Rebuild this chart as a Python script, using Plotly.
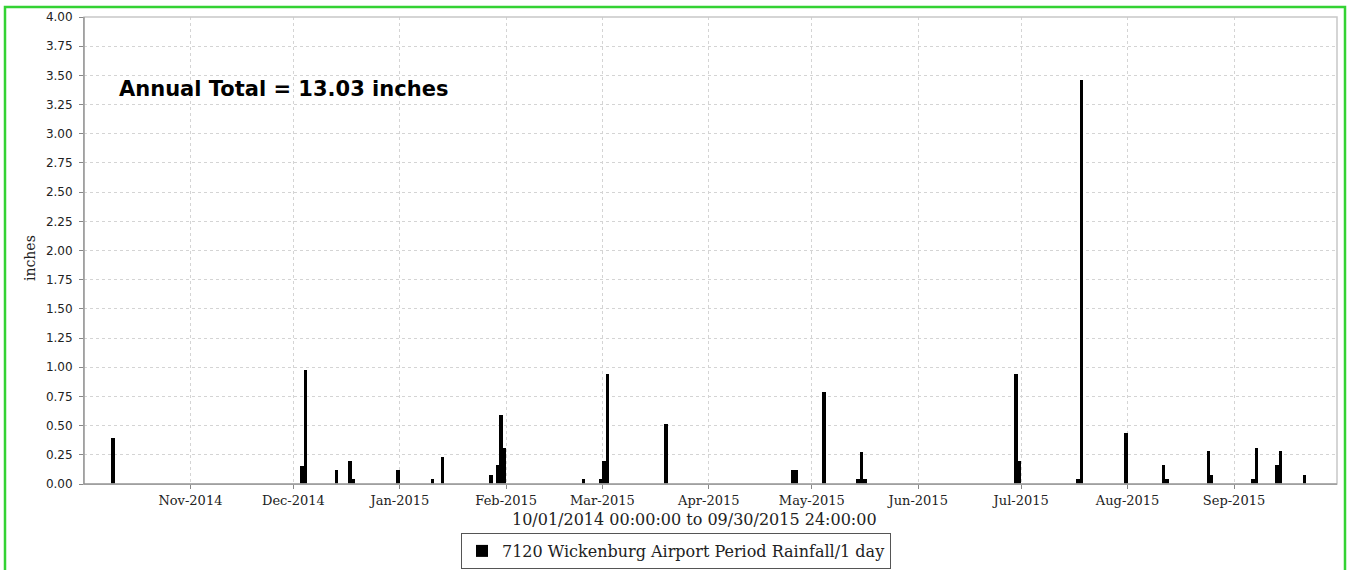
import plotly.graph_objects as go

# ---- data ----
rain_dates = [
    "2014-10-09", "2014-12-03", "2014-12-04", "2014-12-13", "2014-12-17", "2014-12-18",
    "2014-12-31", "2015-01-10", "2015-01-13", "2015-01-27", "2015-01-29", "2015-01-30",
    "2015-01-31", "2015-02-23", "2015-02-28", "2015-03-01", "2015-03-02", "2015-03-19",
    "2015-04-25", "2015-04-26", "2015-05-04", "2015-05-14", "2015-05-15", "2015-05-16",
    "2015-06-29", "2015-06-30", "2015-07-17", "2015-07-18", "2015-07-31", "2015-08-11",
    "2015-08-12", "2015-08-24", "2015-08-25", "2015-09-06", "2015-09-07", "2015-09-13",
    "2015-09-14", "2015-09-21",
]
rain_inches = [
    0.39, 0.15, 0.98, 0.12, 0.20, 0.04,
    0.12, 0.04, 0.23, 0.08, 0.16, 0.59,
    0.31, 0.04, 0.04, 0.20, 0.94, 0.51,
    0.12, 0.12, 0.79, 0.04, 0.27, 0.04,
    0.94, 0.20, 0.04, 3.46, 0.44, 0.16,
    0.04, 0.28, 0.08, 0.04, 0.31, 0.16,
    0.28, 0.08,
]
month_ticks = [
    "2014-11-01", "2014-12-01", "2015-01-01", "2015-02-01", "2015-03-01", "2015-04-01",
    "2015-05-01", "2015-06-01", "2015-07-01", "2015-08-01", "2015-09-01",
]
month_labels = [
    "Nov-2014", "Dec-2014", "Jan-2015", "Feb-2015", "Mar-2015", "Apr-2015",
    "May-2015", "Jun-2015", "Jul-2015", "Aug-2015", "Sep-2015",
]
series_name = "7120 Wickenburg Airport Period Rainfall/1 day"
x_title = "10/01/2014 00:00:00 to 09/30/2015 24:00:00"
y_title = "inches"
annual_total = sum(rain_inches)

# ---- geometry (pixels) ----
W, H = 1348, 570
L, R, T, B = 84, 1337, 17, 484
pw, ph = R - L, B - T


def px_x(px):
    return (px - L) / pw


def px_y(py):
    return (B - py) / ph


DAY_MS = 86400000

fig = go.Figure()
fig.add_trace(go.Bar(
    x=rain_dates, y=rain_inches, name=series_name,
    width=[DAY_MS] * len(rain_dates), offset=0,
    marker=dict(color="black", line=dict(width=0)),
    showlegend=True,
))

grid = dict(showgrid=True, gridcolor="#d4d4d4", gridwidth=1, griddash="3px,3px")

fig.update_layout(
    width=W, height=H,
    margin=dict(l=L, r=W - R, t=T, b=H - B, autoexpand=False),
    paper_bgcolor="white", plot_bgcolor="white",
    bargap=0,
    showlegend=True,
    legend=dict(
        x=px_x(676), y=px_y(569), xanchor="center", yanchor="bottom",
        orientation="v",
        font=dict(family="DejaVu Serif", size=16, color="#222"),
        bordercolor="#555", borderwidth=1, bgcolor="white",
        itemclick=False,
    ),
    xaxis=dict(
        type="date",
        range=["2014-10-01", "2015-10-01"],
        tickvals=month_ticks, ticktext=month_labels,
        ticks="outside", ticklen=4, tickcolor="#888",
        tickfont=dict(family="DejaVu Serif", size=13, color="#222"),
        showline=True, linecolor="#888", linewidth=1,
        zeroline=False,
        **grid,
    ),
    yaxis=dict(
        range=[0, 4], tick0=0, dtick=0.25, tickformat=".2f",
        ticks="outside", ticklen=4, tickcolor="#888",
        ticklabelstandoff=4,
        tickfont=dict(family="DejaVu Sans", size=12, color="#222"),
        showline=True, linecolor="#888", linewidth=1,
        zeroline=False,
        **grid,
    ),
)

# plot-area border (top/right) in light gray
fig.add_shape(type="rect", xref="paper", yref="paper", x0=0, x1=1, y0=0, y1=1,
              line=dict(color="#c8c8c8", width=1.5), layer="above")
fig.add_shape(type="line", xref="paper", yref="paper", x0=0, x1=0, y0=0, y1=1,
              line=dict(color="#888", width=1), layer="above")
fig.add_shape(type="line", xref="paper", yref="paper", x0=0, x1=1, y0=0, y1=0,
              line=dict(color="#888", width=1), layer="above")

# outer green frame
fig.add_shape(type="rect", xref="paper", yref="paper",
              x0=px_x(5), x1=px_x(1345), y0=px_y(7), y1=px_y(590),
              line=dict(color="#33d233", width=2.5), layer="above")

# y-axis caption
fig.add_annotation(
    text=y_title, xref="paper", yref="paper", x=px_x(30), y=px_y(258),
    xanchor="center", yanchor="middle", showarrow=False, textangle=-90,
    font=dict(family="DejaVu Serif", size=14, color="#222"),
)

# x-axis caption
fig.add_annotation(
    text=x_title, xref="paper", yref="paper", x=px_x(694), y=px_y(519),
    xanchor="center", yanchor="middle", showarrow=False,
    font=dict(family="DejaVu Serif", size=16, color="#222"),
)

fig.add_annotation(
    text=f"Annual Total = {annual_total:.2f} inches",
    xref="paper", yref="paper", x=px_x(117), y=px_y(89),
    xanchor="left", yanchor="middle", showarrow=False,
    font=dict(family="DejaVu Sans", size=21, color="black", weight="bold"),
)

fig.write_html(
    "out.html",
    config={"displayModeBar": False},
    post_script="document.body.style.margin='0';document.body.style.overflow='hidden';",
)
